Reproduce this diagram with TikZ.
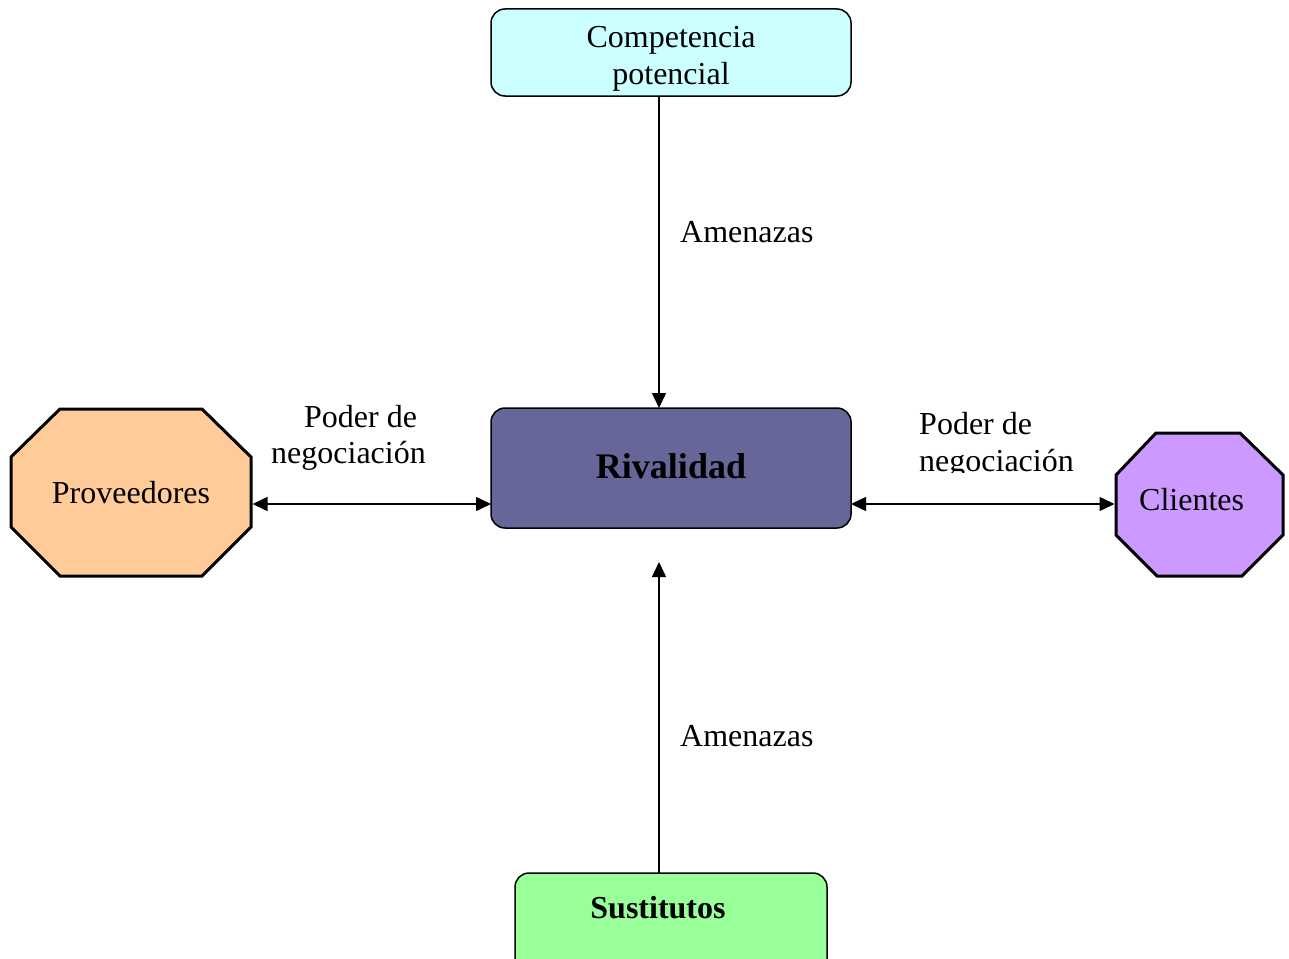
\documentclass[tikz,border=0pt]{standalone}
\usepackage{fontspec}
\setmainfont{Liberation Serif}
\usetikzlibrary{arrows.meta,calc}
\definecolor{compfill}{HTML}{CCFFFF}
\definecolor{rivfill}{HTML}{666699}
\definecolor{susfill}{HTML}{99FF99}
\definecolor{provfill}{HTML}{FFCC99}
\definecolor{clifill}{HTML}{CC99FF}
\begin{document}
\begin{tikzpicture}[x=1pt,y=-1pt,
  box/.style={draw, line width=1.5pt, rounded corners=14pt, inner sep=0pt, outer sep=0pt},
  octbox/.style={inner sep=0pt, outer sep=0pt},
  octline/.style={draw, line width=3pt, line join=miter},
  lbl/.style={inner sep=0pt, font=\fontsize{32}{37}\selectfont},
  lblb/.style={inner sep=0pt, font=\bfseries\fontsize{32}{37}\selectfont},
  arr/.style={line width=1.5pt, -{Triangle[length=15pt,width=14pt]}},
  arrb/.style={line width=1.5pt, {Triangle[length=15pt,width=14pt]}-{Triangle[length=15pt,width=14pt]}}]
\clip (0,0) rectangle (1289,958);
\path[use as bounding box] (0,0) rectangle (1289,958);

% boxes
\node[box, fill=compfill, minimum width=360pt, minimum height=87pt] (comp) at (671,52.5) {};
\node[box, fill=rivfill, minimum width=360pt, minimum height=120pt] (riv) at (671,468) {};
\node[box, fill=susfill, minimum width=312pt, minimum height=117pt] (sus) at (671,931.5) {};

% octagons
\node[octbox, minimum width=240pt, minimum height=167pt] (prov) at (131,492.5) {};
\draw[octline, fill=provfill]
  ($(prov.north west)+(49,0)$) -- ($(prov.north east)+(-49,0)$) --
  ($(prov.north east)+(0,48)$) -- ($(prov.south east)+(0,-49)$) --
  ($(prov.south east)+(-49,0)$) -- ($(prov.south west)+(49,0)$) --
  ($(prov.south west)+(0,-49)$) -- ($(prov.north west)+(0,48)$) -- cycle;
\node[octbox, minimum width=167pt, minimum height=143pt] (cli) at (1199.5,504.5) {};
\draw[octline, fill=clifill]
  ($(cli.north west)+(40,0)$) -- ($(cli.north east)+(-43,0)$) --
  ($(cli.north east)+(0,42)$) -- ($(cli.south east)+(0,-41)$) --
  ($(cli.south east)+(-41,0)$) -- ($(cli.south west)+(41,0)$) --
  ($(cli.south west)+(0,-41)$) -- ($(cli.north west)+(0,42)$) -- cycle;

% texts
\node[lbl, anchor=base] (t1) at (671,47.5) {Competencia};
\node[lbl, anchor=base] (t2) at (671,84) {potencial};
\node[inner sep=0pt, font=\bfseries\fontsize{36}{40}\selectfont, anchor=base] (t3) at (671,478) {Rivalidad};
\node[lblb, anchor=base] (t4) at (658,918) {Sustitutos};
\node[lbl, anchor=base] (t5) at (131,503) {Proveedores};
\node[lbl, anchor=base west] (t6) at (1139,510) {Clientes};
\node[lbl, anchor=base west] (t7) at (680,242) {Amenazas};
\node[lbl, anchor=base west] (t8) at (680,746) {Amenazas};
\node[lbl, anchor=base west] (t9) at (304,427) {Poder de};
\node[lbl, anchor=base west] (t10) at (271,463) {negociación};
\begin{scope}
  \clip (900,390) rectangle (1110,472);
  \node[lbl, anchor=base west] (t11) at (919,434) {Poder de};
  \node[lbl, anchor=base west] (t12) at (919,471) {negociación};
\end{scope}

% connectors
\coordinate (vx) at (659,562);
\coordinate (hy) at (0,504);
\draw[arr] (comp.south -| vx) -- (riv.north -| vx);
\draw[arr] (sus.north -| vx) -- (vx);
\draw[arrb] ($(prov.east |- hy)+(1.5,0)$) -- (riv.west |- hy);
\draw[arrb] (riv.east |- hy) -- ($(cli.west |- hy)+(-1.5,0)$);
\end{tikzpicture}
\end{document}
